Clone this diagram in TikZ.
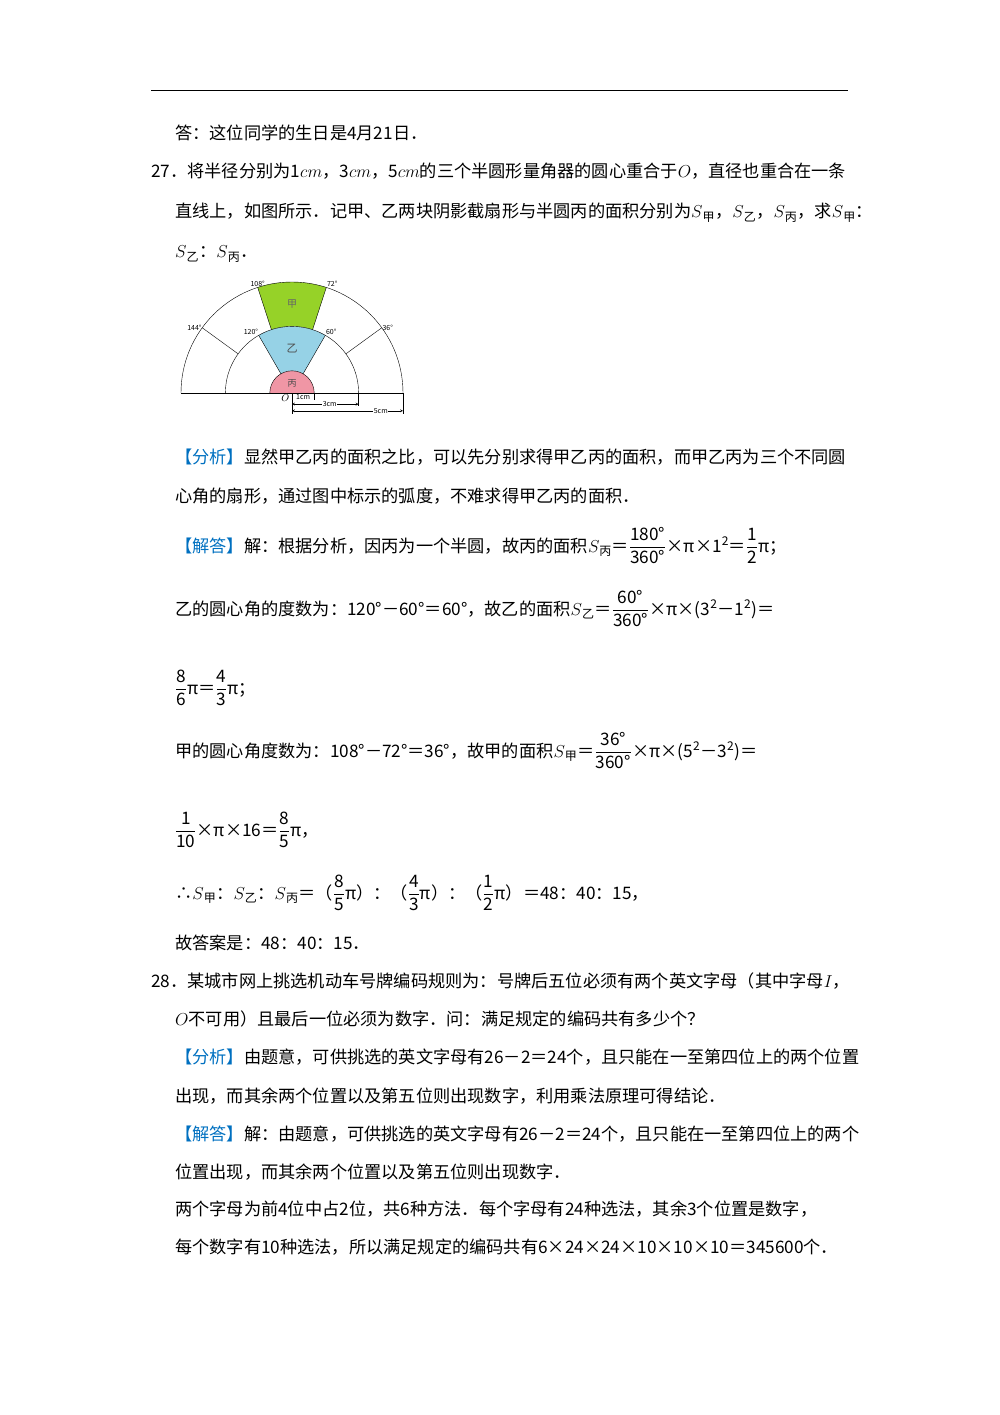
\documentclass[tikz,border=0pt]{standalone}
\usepackage{fontspec}
\setmainfont{Noto Sans CJK SC}
\usepackage{amsmath}
\definecolor{fx}{RGB}{0,112,192}
\definecolor{jia}{RGB}{150,210,40}
\definecolor{yi}{RGB}{150,210,230}
\definecolor{bing}{RGB}{240,150,165}
\newcommand{\fr}[2]{\dfrac{\text{#1}}{\text{#2}}}
\begin{document}
\begin{tikzpicture}[x=1pt,y=-1pt,
 t/.style={anchor=base west,inner sep=0pt,font=\fontsize{17.2}{20}\selectfont},
 lab/.style={inner sep=0.5pt,font=\fontsize{7}{8}\selectfont}]
\useasboundingbox (0,0) rectangle (1000,1415);
\draw[line width=1pt] (151,91) -- (848,91);
\node[t] (l1) at (175,140) {答：这位同学的生日是4月21日．};
\node[t] (l2) at (151,178) {27．将半径分别为1$cm$，3$cm$，5$cm$的三个半圆形量角器的圆心重合于$O$，直径也重合在一条};
\node[t] (l3) at (175,218) {直线上，如图所示．记甲、乙两块阴影截扇形与半圆丙的面积分别为$S$\textsubscript{甲}，$S$\textsubscript{乙}，$S$\textsubscript{丙}，求$S$\textsubscript{甲}：};
\node[t] (l4) at (175,258) {$S$\textsubscript{乙}：$S$\textsubscript{丙}．};
% figure
\begin{scope}[shift={(292,393)},x=22.2pt,y=22.2pt]
\fill[jia] (72:3) arc (72:108:3) -- (108:5) arc (108:72:5) -- cycle;
\fill[yi] (60:1) arc (60:120:1) -- (120:3) arc (120:60:3) -- cycle;
\fill[bing] (1,0) arc (0:180:1) -- cycle;
\draw[line width=0.4pt] (5,0) arc (0:180:5) (3,0) arc (0:180:3) (1,0) arc (0:180:1);
\draw[line width=0.4pt] (-5,0) -- (5,0);
\foreach \a in {36,72,108,144} \draw[line width=0.4pt] (\a:3) -- (\a:5);
\foreach \a in {60,120} \draw[line width=0.4pt] (\a:1) -- (\a:3);
\node[lab,anchor=south] (a108) at (108:5) {108°};
\node[lab,anchor=south west] (a72) at (72:5) {72°};
\node[lab,anchor=east] (a144) at (144:5) {144°};
\node[lab,anchor=west] (a36) at (36:5) {36°};
\node[lab,anchor=south east] (a120) at (120:3) {120°};
\node[lab,anchor=south west] (a60) at (60:3) {60°};
\node[font=\fontsize{10}{11}\selectfont,text=black!60] (ja) at (90:4) {甲};
\node[font=\fontsize{11}{12}\selectfont,text=black!70] (ya) at (90:2) {乙};
\node[font=\fontsize{9}{10}\selectfont,text=black!70] (ba) at (0,0.45) {丙};
\node[font=\itshape\fontsize{10}{11}\selectfont] (o) at (-0.3,-0.25) {$O$};
\draw[line width=0.3pt] (0,0) -- (0,-0.95);
\draw[line width=0.3pt] (3,0) -- (3,-0.6) (5,0) -- (5,-0.95) (1,0)--(1,-0.3);
\node[lab] (c1) at (0.5,-0.2) {1cm};
\draw[line width=0.3pt,<->,>=stealth] (0,-0.5) -- (3,-0.5);
\node[lab,fill=white] (c3) at (1.7,-0.5) {3cm};
\draw[line width=0.3pt,<->,>=stealth] (0,-0.8) -- (5,-0.8);
\node[lab,fill=white] (c5) at (4,-0.8) {5cm};
\end{scope}
\node[t] (l5) at (175,463) {\textcolor{fx}{【分析】}显然甲乙丙的面积之比，可以先分别求得甲乙丙的面积，而甲乙丙为三个不同圆};
\node[t] (l6) at (175,502) {心角的扇形，通过图中标示的弧度，不难求得甲乙丙的面积．};
\node[t] (l7) at (175,552) {\textcolor{fx}{【解答】}解：根据分析，因丙为一个半圆，故丙的面积$S$\textsubscript{丙}＝$\fr{180°}{360°}$×π×1\textsuperscript{2}＝$\fr{1}{2}$π；};
\node[t] (l8) at (175,615) {乙的圆心角的度数为：120°－60°＝60°，故乙的面积$S$\textsubscript{乙}＝$\fr{60°}{360°}$×π×(3\textsuperscript{2}－1\textsuperscript{2})＝};
\node[t] (l9) at (175,694) {$\fr{8}{6}$π＝$\fr{4}{3}$π；};
\node[t] (l10) at (175,757) {甲的圆心角度数为：108°－72°＝36°，故甲的面积$S$\textsubscript{甲}＝$\fr{36°}{360°}$×π×(5\textsuperscript{2}－3\textsuperscript{2})＝};
\node[t] (l11) at (175,836) {$\fr{1}{10}$×π×16＝$\fr{8}{5}$π，};
\node[t] (l12) at (175,899) {∴$S$\textsubscript{甲}：$S$\textsubscript{乙}：$S$\textsubscript{丙}＝（$\fr{8}{5}$π）：（$\fr{4}{3}$π）：（$\fr{1}{2}$π）＝48：40：15，};
\node[t] (l13) at (175,949) {故答案是：48：40：15．};
\node[t] (l14) at (151,987) {28．某城市网上挑选机动车号牌编码规则为：号牌后五位必须有两个英文字母（其中字母$I$，};
\node[t] (l15) at (175,1025) {$O$不可用）且最后一位必须为数字．问：满足规定的编码共有多少个？};
\node[t] (l16) at (175,1063) {\textcolor{fx}{【分析】}由题意，可供挑选的英文字母有26－2＝24个，且只能在一至第四位上的两个位置};
\node[t] (l17) at (175,1102) {出现，而其余两个位置以及第五位则出现数字，利用乘法原理可得结论．};
\node[t] (l18) at (175,1140) {\textcolor{fx}{【解答】}解：由题意，可供挑选的英文字母有26－2＝24个，且只能在一至第四位上的两个};
\node[t] (l19) at (175,1178) {位置出现，而其余两个位置以及第五位则出现数字．};
\node[t] (l20) at (175,1215) {两个字母为前4位中占2位，共6种方法．每个字母有24种选法，其余3个位置是数字，};
\node[t] (l21) at (175,1253) {每个数字有10种选法，所以满足规定的编码共有6×24×24×10×10×10＝345600个．};
\end{tikzpicture}
\end{document}
